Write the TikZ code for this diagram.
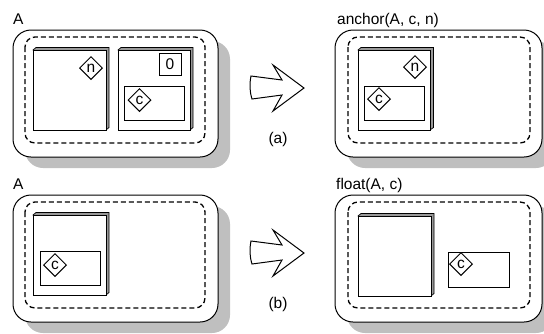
\documentclass[tikz,border=0pt]{standalone}
\usepackage{fontspec}
\setmainfont{Liberation Sans}
\usetikzlibrary{shapes.geometric}
\tikzset{
  shade/.style={fill=black!25, rounded corners=18pt},
  frame/.style={draw, line width=1pt, fill=white, rounded corners=18pt},
  area/.style={draw, line width=1.3pt, dash pattern=on 5pt off 3pt, rounded corners=10pt},
  side/.style={draw, line width=0.7pt, fill=black!40},
  face/.style={draw, line width=1pt, fill=white},
  slot/.style={draw, line width=1pt, fill=white},
  tag/.style={draw, diamond, line width=1pt, fill=white, inner sep=0pt, minimum size=23pt},
  zero/.style={draw, line width=1pt, inner sep=0pt, minimum width=22pt, minimum height=22pt},
  lbl/.style={anchor=base west, inner sep=0pt},
  step lbl/.style={anchor=base, inner sep=0pt},
  bigarrow/.style={draw, line width=1pt, fill=white, line join=miter}
}
\begin{document}
\begin{tikzpicture}[x=1pt, y=-1pt, font=\fontsize{15.5}{18}\selectfont]
\useasboundingbox (0,0) rectangle (544,333);
\clip (0,0) rectangle (544,333);

% (a) before
\node[lbl] (A1) at (13,24) {A};
\fill[shade] (25,41) rectangle (230,168);
\draw[frame] (13,30) rectangle (218,157);
\draw[area] (25,37) rectangle (205,143);
\filldraw[side] (33,50) -- (36,47.5) -- (109,47.5) -- (109,127.5) -- (106,130) -- cycle;
\draw[face] (33,50) rectangle (106,130);
\node[tag] (n1) at (91,68) {n};
\filldraw[side] (118,50) -- (121,47.5) -- (193,47.5) -- (193,127.5) -- (190,130) -- cycle;
\draw[face] (118,50) rectangle (190,130);
\node[zero] (z1) at (170,64) {0};
\draw[slot] (124,86) rectangle (184,120);
\node[tag] (c1) at (139.5,100) {c};

% arrows
\draw[bigarrow] (251,76) -- (282,80) -- (273,65) -- (304,88) -- (273,111) -- (282,95) -- (252,99)
  .. controls (249.5,91) and (249.5,84) .. (251,76) -- cycle;
\node[step lbl] (la) at (278,143) {(a)};
\draw[bigarrow] (251,241) -- (282,245) -- (273,230) -- (304,253) -- (273,276) -- (282,260) -- (252,264)
  .. controls (249.5,256) and (249.5,249) .. (251,241) -- cycle;
\node[step lbl] (lb) at (278,308) {(b)};

% (a) after
\node[lbl] (A2) at (337,24) {anchor(A, c, n)};
\fill[shade] (347,41) rectangle (554,168);
\draw[frame] (335,30) rectangle (542,157);
\draw[area] (348,37) rectangle (530,143);
\filldraw[side] (358,50) -- (361,47.5) -- (433.5,47.5) -- (433.5,127.5) -- (430,130) -- cycle;
\draw[face] (358,50) rectangle (430,130);
\node[tag] (n2) at (415,67) {n};
\draw[slot] (364,86) rectangle (424,120);
\node[tag] (c2) at (379,99) {c};

% (b) before
\node[lbl] (A3) at (13,189) {A};
\fill[shade] (25,206) rectangle (230,333);
\draw[frame] (13,195) rectangle (218,322);
\draw[area] (25,202) rectangle (205,308);
\filldraw[side] (33,215) -- (36,212.5) -- (109,212.5) -- (109,292.5) -- (106,295) -- cycle;
\draw[face] (33,215) rectangle (106,295);
\draw[slot] (40,251) rectangle (100,285);
\node[tag] (c3) at (55,265) {c};

% (b) after
\node[lbl] (A4) at (336,189) {float(A, c)};
\fill[shade] (347,206) rectangle (554,333);
\draw[frame] (335,195) rectangle (542,322);
\draw[area] (348,202) rectangle (530,308);
\filldraw[side] (358,216) -- (361,213.5) -- (434,213.5) -- (434,293.5) -- (431,296) -- cycle;
\draw[face] (358,216) rectangle (431,296);
\draw[slot] (448,252) rectangle (509,287);
\node[tag] (c4) at (461,264) {c};
\end{tikzpicture}
\end{document}
